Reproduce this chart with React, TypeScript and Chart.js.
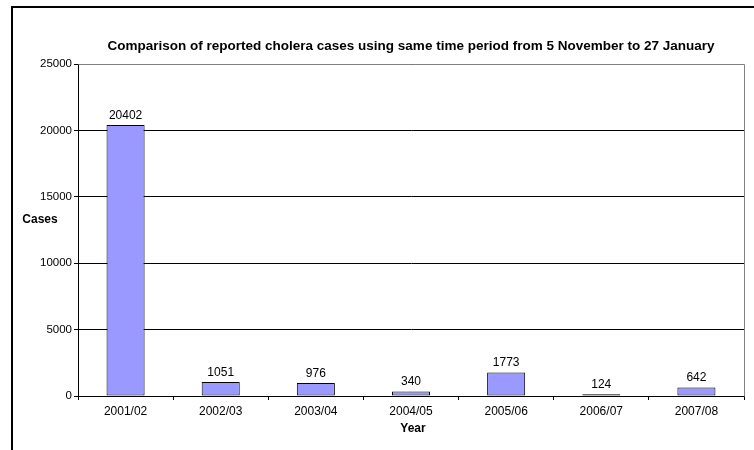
import React, { useEffect, useRef } from "react";
import { Chart, registerables } from "chart.js";

Chart.register(...registerables);

const categories = ["2001/02", "2002/03", "2003/04", "2004/05", "2005/06", "2006/07", "2007/08"];
const cases = [20402, 1051, 976, 340, 1773, 124, 642];
const yTicks = [0, 5000, 10000, 15000, 20000, 25000];
const titleText = "Comparison of reported cholera cases using same time period from 5 November to 27 January";
const yTitle = "Cases";
const xTitle = "Year";

const FONT = "'Liberation Sans', Arial, sans-serif";

const decorPlugin = {
  id: "decor",
  afterDraw(chart: any) {
    const { ctx, chartArea } = chart;
    const { left, right, top, bottom } = chartArea;
    ctx.save();
    // plot border (gray) top and right
    ctx.strokeStyle = "#808080";
    ctx.lineWidth = 1;
    ctx.beginPath();
    ctx.moveTo(Math.round(left) + 0.5, Math.round(top) + 0.5);
    ctx.lineTo(Math.round(right) + 0.5, Math.round(top) + 0.5);
    ctx.lineTo(Math.round(right) + 0.5, Math.round(bottom) + 0.5);
    ctx.stroke();
    // outer frame
    ctx.strokeStyle = "#000";
    ctx.lineWidth = 2;
    ctx.strokeRect(12, 7, 900, 600);
    // title
    ctx.fillStyle = "#000";
    ctx.textAlign = "center";
    ctx.textBaseline = "middle";
    ctx.font = `bold 13.5px ${FONT}`;
    ctx.fillText(titleText, (left + right) / 2, 46);
    // axis titles
    ctx.font = `bold 12px ${FONT}`;
    ctx.fillText(yTitle, 40, 220);
    ctx.fillText(xTitle, (left + right) / 2 + 2, 429);
    // data labels
    ctx.font = `12px ${FONT}`;
    ctx.textBaseline = "alphabetic";
    const meta = chart.getDatasetMeta(0);
    meta.data.forEach((bar: any, i: number) => {
      ctx.fillText(String(cases[i]), bar.x, bar.y - 6);
    });
    ctx.restore();
  },
};

export default function App() {
  const ref = useRef<HTMLCanvasElement | null>(null);
  useEffect(() => {
    if (!ref.current) return;
    const chart = new Chart(ref.current, {
      type: "bar",
      data: {
        labels: categories,
        datasets: [
          {
            data: cases,
            backgroundColor: "#9999FF",
            borderColor: "#000000",
            borderWidth: 1,
            borderSkipped: false,
            barPercentage: 0.4,
            categoryPercentage: 1,
          },
        ],
      },
      options: {
        responsive: false,
        animation: false,
        events: [],
        layout: { padding: { left: 0, top: 64, right: 10, bottom: 0 } },
        plugins: { legend: { display: false }, title: { display: false }, tooltip: { enabled: false } },
        scales: {
          x: {
            offset: true,
            grid: { drawOnChartArea: false, drawTicks: true, tickLength: 4, color: "#000", offset: true },
            border: { color: "#000" },
            ticks: { color: "#000", font: { family: FONT, size: 12 }, padding: 4, maxRotation: 0, autoSkip: false },
            afterFit: (s: any) => {
              s.height = 54;
            },
          },
          y: {
            min: 0,
            max: 25000,
            afterBuildTicks: (s: any) => {
              s.ticks = yTicks.map((v) => ({ value: v }));
            },
            grid: { color: "#000", tickLength: 4, lineWidth: 1 },
            border: { color: "#000" },
            ticks: {
              color: "#000",
              font: { family: FONT, size: 11.5 },
              padding: 2,
              callback: (v: any) => String(v),
            },
            afterFit: (s: any) => {
              s.width = 78;
            },
          },
        },
      },
      plugins: [decorPlugin],
    });
    return () => chart.destroy();
  }, []);
  return (
    <div style={{ position: "absolute", left: 0, top: 0, width: 754, height: 450, background: "#fff" }}>
      <canvas ref={ref} width={754} height={450} style={{ display: "block" }} />
    </div>
  );
}
